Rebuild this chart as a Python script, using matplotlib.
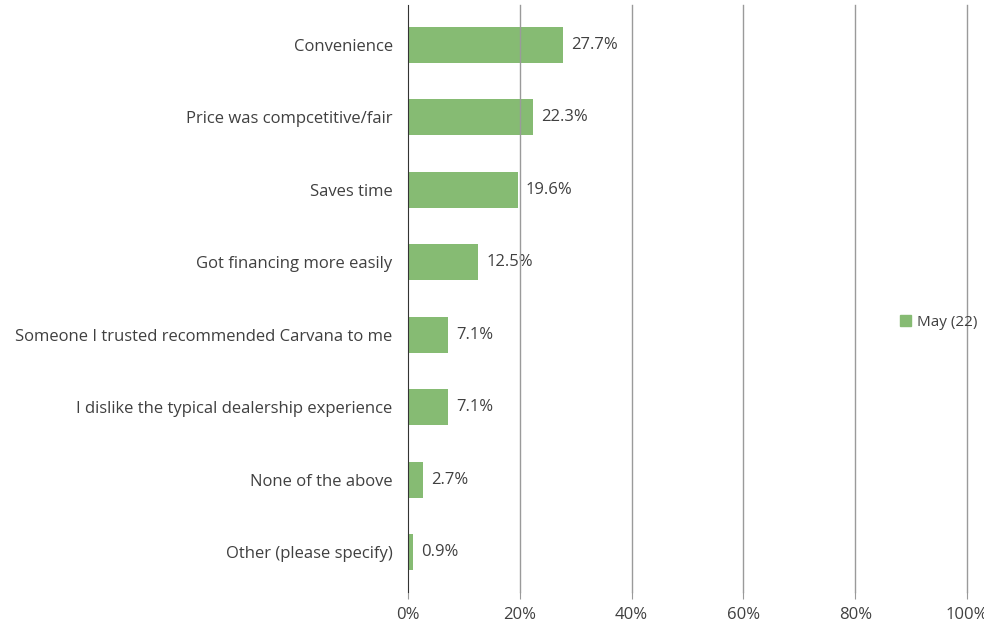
import matplotlib
matplotlib.use("Agg")
import matplotlib.pyplot as plt
from matplotlib.patches import Patch

# survey answers, top to bottom
reasons = ["Convenience", "Price was compcetitive/fair", "Saves time",
           "Got financing more easily",
           "Someone I trusted recommended Carvana to me",
           "I dislike the typical dealership experience",
           "None of the above", "Other (please specify)"]
pct = [27.7, 22.3, 19.6, 12.5, 7.1, 7.1, 2.7, 0.9]
xticks = [0, 20, 40, 60, 80, 100]
series_name = "May (22)"

plt.rcParams['font.family'] = ['Open Sans', 'DejaVu Sans']
txt = '#404040'
green = '#86bb73'
fs = 12

fig = plt.figure(figsize=(9.84, 6.27), dpi=100)
ax = fig.add_axes([408/984, 1 - 592/627, (967-408)/984, (592-5)/627])

ypos = list(range(len(reasons)))
bars = ax.barh(ypos, pct, height=0.5, color=green, zorder=2)
for y, v in zip(ypos, pct):
    ax.annotate(f"{v}%", (v, y), xytext=(6, 0), textcoords='offset points',
                va='center', ha='left', fontsize=fs, color=txt)

ax.set_xlim(0, 100)
ax.set_ylim(len(reasons) - 0.45, -0.55)
ax.set_yticks(ypos)
ax.set_yticklabels(reasons)
ax.set_xticks(xticks)
ax.set_xticklabels([f"{t}%" for t in xticks])

# vertical gridlines drawn above everything
for t in xticks[1:]:
    ax.axvline(t, color='#9a9a9a', lw=1, zorder=6, clip_on=False)

for s in ['top', 'right', 'bottom']:
    ax.spines[s].set_visible(False)
ax.spines['left'].set_color('#333333')
ax.spines['left'].set_zorder(7)

ax.tick_params(axis='y', length=0, pad=11, labelsize=fs, labelcolor=txt)
ax.tick_params(axis='x', length=5, color='#9a9a9a', pad=6, labelsize=fs,
               labelcolor=txt)

fig.legend(handles=[Patch(color=green, label=series_name)],
           loc='center left', bbox_to_anchor=(894/984, 1 - 322/627),
           frameon=False, fontsize=11, labelcolor=txt, handlelength=0.7,
           handleheight=0.7, handletextpad=0.4, borderaxespad=0)

fig.savefig("out.png", dpi=100)
